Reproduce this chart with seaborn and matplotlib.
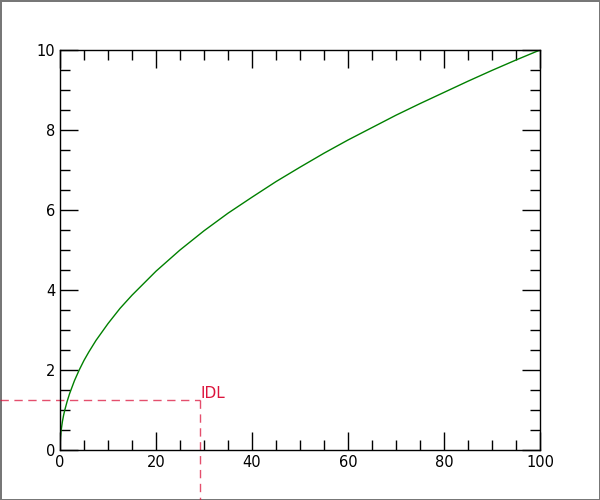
import matplotlib
matplotlib.use("Agg")
import matplotlib.pyplot as plt
import seaborn as sns
import pandas as pd
from matplotlib.ticker import MultipleLocator

# Curve values
x_vals = [0, 0.1, 0.25, 0.5, 0.75, 1, 1.5, 2, 3, 4, 5, 6, 7.5, 10, 12.5, 15, 20, 25, 30,
          35, 40, 45, 50, 55, 60, 65, 70, 75, 80, 85, 90, 95, 100]
y_vals = [0, 0.32, 0.5, 0.71, 0.87, 1.0, 1.22, 1.41, 1.73, 2.0, 2.24, 2.45, 2.74, 3.16, 3.54,
          3.87, 4.47, 5.0, 5.48, 5.92, 6.32, 6.71, 7.07, 7.42, 7.75, 8.06, 8.37, 8.66, 8.94,
          9.22, 9.49, 9.75, 10.0]

idl_x = 29.17
idl_y = 1.25
idl_label = "IDL"

df = pd.DataFrame({"x": x_vals, "y": y_vals})

sns.set_style("white")
fig = plt.figure(figsize=(6, 5), dpi=100)
fig.patch.set_edgecolor("#777777")
fig.patch.set_linewidth(2)
ax = fig.add_axes([0.1, 0.1, 0.8, 0.8])

sns.lineplot(data=df, x="x", y="y", ax=ax, color="green", linewidth=1)

ax.set_xlim(0, 100)
ax.set_ylim(0, 10)
ax.set_xlabel("")
ax.set_ylabel("")
ax.xaxis.set_major_locator(MultipleLocator(20))
ax.xaxis.set_minor_locator(MultipleLocator(5))
ax.yaxis.set_major_locator(MultipleLocator(2))
ax.yaxis.set_minor_locator(MultipleLocator(0.5))
ax.tick_params(which="both", direction="in", top=True, right=True, bottom=True, left=True,
               color="black", width=1, labelsize=10.5, labelcolor="black")
ax.tick_params(which="major", length=13)
ax.tick_params(which="minor", length=7)
for s in ax.spines.values():
    s.set_color("black")
    s.set_linewidth(1)

# dashed marker lines extending beyond the axes
ax.plot([-12.5, idl_x], [idl_y, idl_y], color="crimson", alpha=0.75, linewidth=1,
        dashes=(6, 4), clip_on=False)
ax.plot([idl_x, idl_x], [idl_y, -1.25], color="crimson", alpha=0.75, linewidth=1,
        dashes=(6, 4), clip_on=False)
ax.text(idl_x + 0.1, idl_y - 0.02, idl_label, color="crimson", fontsize=11,
        ha="left", va="bottom")

fig.savefig("out.png", dpi=100)
